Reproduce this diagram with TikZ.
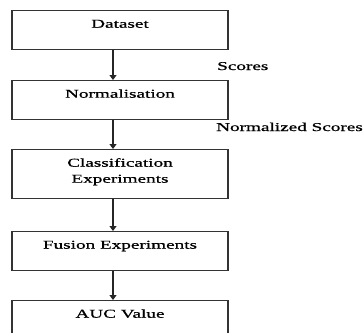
\documentclass[tikz,border=0pt]{standalone}
\usepackage{fontspec}
\setmainfont{Liberation Serif}[FakeStretch=1.6,FakeBold=0.8]
\usetikzlibrary{arrows.meta}
\tikzset{
  stagebox/.style={draw=black!80, line width=1.4pt, minimum width=216pt, inner xsep=0pt, inner ysep=4pt,
    text height=13pt, text depth=18pt, anchor=north, font=\fontsize{12}{16}\selectfont},
  flowarrow/.style={draw=black!85, line width=1.2pt, -{Triangle[width=7pt,length=5pt]}},
  flowlabel/.style={anchor=base west, inner sep=0pt, font=\fontsize{12}{16}\selectfont}
}
\begin{document}
\begin{tikzpicture}[x=1pt,y=-1pt]
        \newcommand{\figflowboxx}{120}
        \newcommand{\figflowarrowshift}{-7pt}
        \newcommand{\figflowlabelx}{216}
        \clip (0,0) rectangle (364,332);
        \fill[white] (0,0) rectangle (364,332);
        % the five stages, top to bottom
        \node[stagebox] (dataset) at (\figflowboxx,10) {Dataset};
        \node[stagebox] (norm) at (\figflowboxx,80) {Normalisation};
        \node[stagebox, text width=216pt, align=center, text depth=28pt] (classif) at (\figflowboxx,149) {Classification\\Experiments};
        \node[stagebox] (fusion) at (\figflowboxx,231) {Fusion Experiments};
        \node[stagebox] (auc) at (\figflowboxx,300) {AUC Value};
        % arrows sit a little left of the box centres
        \draw[flowarrow] ([xshift=\figflowarrowshift]dataset.south) -- ([xshift=\figflowarrowshift]norm.north);
        \draw[flowarrow] ([xshift=\figflowarrowshift]norm.south) -- ([xshift=\figflowarrowshift]classif.north);
        \draw[flowarrow] ([xshift=\figflowarrowshift]classif.south) -- ([xshift=\figflowarrowshift]fusion.north);
        \draw[flowarrow] ([xshift=\figflowarrowshift]fusion.south) -- ([xshift=\figflowarrowshift]auc.north);
        % data passed between stages
        \node[flowlabel] (scores) at (\figflowlabelx+1,70) {Scores};
        \node[flowlabel] (normscores) at (\figflowlabelx,131) {Normalized Scores};
\end{tikzpicture}
\end{document}
